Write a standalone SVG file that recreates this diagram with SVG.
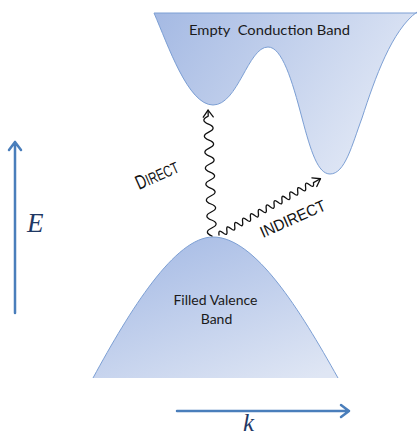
<svg xmlns="http://www.w3.org/2000/svg" width="417" height="437" viewBox="0 0 417 437">
<style>
.band{stroke:#7c9fd4;stroke-width:1}
.lbl{font-family:"Lato","Liberation Sans",sans-serif;font-size:14px;fill:#1a1a1a;white-space:pre}
.hand{font-family:"Liberation Sans",sans-serif;font-size:16px;fill:#111}
.wave{fill:none;stroke:#111;stroke-width:1.3;stroke-linecap:round;stroke-linejoin:round}
.axis{fill:none;stroke:#4a7ebb;stroke-width:2.5;stroke-linecap:round;stroke-linejoin:round}
.math{font-family:"Liberation Serif",serif;font-style:italic;fill:#1f3864}
</style>
<defs>
<linearGradient id="gc" x1="0" y1="0" x2="1" y2="0.4">
<stop offset="0" stop-color="#a4b9e3"/>
<stop offset="1" stop-color="#e0e7f5"/>
</linearGradient>
<linearGradient id="gv" x1="0.2" y1="0" x2="0.9" y2="1">
<stop offset="0" stop-color="#a6bbe5"/>
<stop offset="1" stop-color="#dfe6f4"/>
</linearGradient>
</defs>
<g id="conduction-band">
<path class="band" fill="url(#gc)" d="M154,13 C168,45 188,105 213,105 C238,105 248,47 268,47 C282,47 292,80 302,118 C311,152 318,174 330,174 C345,174 352,145 362,118 C375,78 392,30 417,12 L417,13 L154,13 Z"/>
<text class="lbl" x="189" y="35" textLength="161" lengthAdjust="spacingAndGlyphs">Empty  Conduction Band</text>
</g>
<g id="valence-band">
<path fill="url(#gv)" d="M93,378 C130,310 175,237 213,237 C255,237 300,310 338,378 Z"/>
<path class="band" fill="none" d="M93,378 C130,310 175,237 213,237 C255,237 300,310 338,378"/>
<text class="lbl" x="215.5" y="305" text-anchor="middle">Filled Valence</text>
<text class="lbl" x="216.5" y="324" text-anchor="middle">Band</text>
</g>
<g id="connectors">
<g id="direct" transform="translate(212,236) rotate(-91.8)">
<path class="wave" d="M0,0 q4,-9 8,0 t8,0 t8,0 t8,0 t8,0 t8,0 t8,0 t8,0 t8,0 t8,0 t8,0 t8,0 t8,0 t8,0 t8,0 l6,0"/>
<path class="wave" d="M119,-5 L126,0 L119,5"/>
</g>
<g id="indirect" transform="translate(219,235) rotate(-29)">
<path class="wave" d="M0,0 q2.25,-6 4.5,0 t4.5,0 t4.5,0 t4.5,0 t4.5,0 t4.5,0 t4.5,0 t4.5,0 t4.5,0 t4.5,0 t4.5,0 t4.5,0 t4.5,0 t4.5,0 t4.5,0 t4.5,0 t4.5,0 t4.5,0 t4.5,0 t4.5,0 t4.5,0 t4.5,0 t4.5,0 t4.5,0 l8,0"/>
<path class="wave" d="M109,-5 L116,0 L109,5"/>
</g>
</g>
<g id="labels">
<text class="hand" transform="translate(139,190) rotate(-24)" textLength="45" lengthAdjust="spacingAndGlyphs"><tspan font-size="20">D</tspan>IRECT</text>
<text class="hand" transform="translate(263,238) rotate(-24)" textLength="70" lengthAdjust="spacingAndGlyphs">INDIRECT</text>
</g>
<g id="e-axis">
<path class="axis" d="M15,313 L15,142 M9,150 L15,142 L21,150"/>
<text class="math" x="27" y="232" font-size="27">E</text>
</g>
<g id="k-axis">
<path class="axis" d="M177,411 L349,411 M341,405 L349,411 L341,417"/>
<text class="math" x="243" y="431" font-size="25">k</text>
</g>
</svg>
